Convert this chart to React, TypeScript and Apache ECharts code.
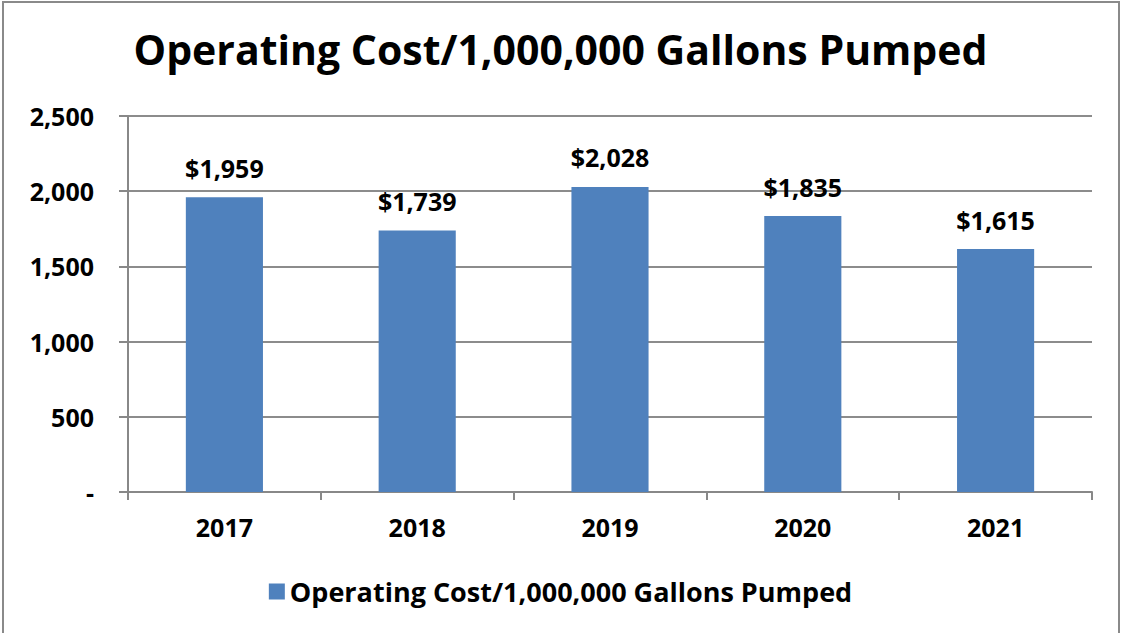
import React, { useEffect, useRef } from "react";
import * as echarts from "echarts";

const categories = ["2017", "2018", "2019", "2020", "2021"];
const values = [1959, 1739, 2028, 1835, 1615];
const seriesName = "Operating Cost/1,000,000 Gallons Pumped";
const titleText = "Operating Cost/1,000,000 Gallons Pumped";

const FONT = "'Open Sans', 'Noto Sans', sans-serif";

export default function App() {
  const ref = useRef<HTMLDivElement>(null);
  useEffect(() => {
    const chart = echarts.init(ref.current!, undefined, { renderer: "svg" });
    chart.setOption({
      animation: false,
      backgroundColor: "#ffffff",
      title: {
        text: titleText,
        left: "center",
        top: 23,
        textStyle: { fontFamily: FONT, fontWeight: "bold", fontSize: 41, color: "#000" },
      },
      legend: {
        bottom: 23,
        left: "center",
        itemWidth: 16,
        itemHeight: 16,
        itemGap: 10,
        icon: "rect",
        textStyle: { fontFamily: FONT, fontWeight: "bold", fontSize: 27, color: "#000" },
        data: [seriesName],
      },
      grid: { left: 128, right: 29, top: 116, bottom: 141 },
      xAxis: {
        type: "category",
        data: categories,
        axisLine: { show: true, lineStyle: { color: "#888", width: 2 } },
        axisTick: { show: true, alignWithLabel: false, length: 8, lineStyle: { color: "#888", width: 2 } },
        axisLabel: { fontFamily: FONT, fontWeight: "bold", fontSize: 25, color: "#000", margin: 22 },
      },
      yAxis: {
        type: "value",
        min: 0,
        max: 2500,
        interval: 500,
        axisLine: { show: true, lineStyle: { color: "#888", width: 2 } },
        axisTick: { show: true, length: 9, lineStyle: { color: "#888", width: 2 } },
        splitLine: { lineStyle: { color: "#8c8c8c", width: 2 } },
        axisLabel: {
          fontFamily: FONT,
          fontWeight: "bold",
          fontSize: 25,
          color: "#000",
          margin: 34,
          formatter: (v: number) => (v === 0 ? "-" : v.toLocaleString("en-US")),
        },
      },
      series: [
        {
          name: seriesName,
          type: "bar",
          data: values,
          barWidth: "40%",
          itemStyle: { color: "#4F81BD" },
          label: {
            show: true,
            position: "top",
            distance: 17,
            fontFamily: FONT,
            fontWeight: "bold",
            fontSize: 25,
            color: "#000",
            formatter: (p: any) => "$" + Number(p.value).toLocaleString("en-US"),
          },
        },
      ],
      graphic: [
        {
          type: "rect",
          shape: { x: 3, y: 2, width: 1116, height: 640 },
          style: { fill: "none", stroke: "#8a8a8a", lineWidth: 2 },
          silent: true,
        },
      ],
    });
    return () => chart.dispose();
  }, []);
  return (
    <div
      ref={ref}
      style={{ position: "fixed", left: 0, top: 0, width: 1121, height: 633 }}
    />
  );
}
